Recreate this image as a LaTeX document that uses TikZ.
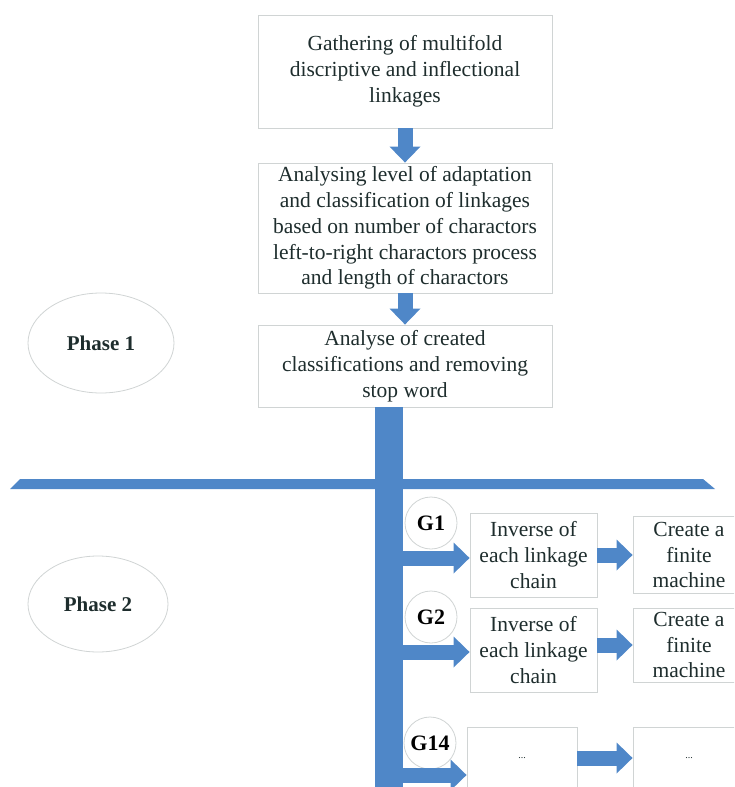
\documentclass[tikz,border=0pt]{standalone}
\usepackage{fontspec}
\setmainfont{Liberation Serif}
\usetikzlibrary{arrows.meta,shapes.geometric}
\definecolor{barblue}{RGB}{79,135,200}
\definecolor{edgegray}{RGB}{208,212,212}
\definecolor{inkdark}{RGB}{30,45,45}
\tikzset{
  stepbox/.style={draw=edgegray, fill=white, line width=0.8pt, align=center,
    text=inkdark, inner sep=0pt, font=\fontsize{21.5}{25.8}\selectfont},
  phase/.style={ellipse, draw=edgegray, fill=white, line width=0.8pt,
    text=inkdark, font=\fontsize{21}{21}\selectfont\bfseries},
  grouptag/.style={circle, draw=edgegray, fill=white, line width=0.8pt,
    minimum size=52pt, inner sep=0pt, font=\fontsize{22}{22}\selectfont\bfseries},
  blockarrow/.style={draw=barblue, line width=15pt,
    -{Triangle[width=30pt,length=16pt]}}
}

\begin{document}
\begin{tikzpicture}[x=1pt,y=-1pt]
    \useasboundingbox (0,0) rectangle (734,787);
    \clip (0,0) rectangle (734,787);

    % phase 1 chain of boxes
    \node[stepbox, minimum width=294pt, minimum height=113pt] (gather) at (405,71.5)
        {Gathering of multifold\\discriptive and inflectional\\linkages};
    \node[stepbox, minimum width=294pt, minimum height=130pt] (analysing) at (405,228)
        {Analysing level of adaptation\\and classification of linkages\\based on number of charactors\\left-to-right charactors process\\and length of charactors};
    \node[stepbox, minimum width=294pt, minimum height=82pt] (analyse) at (405,366)
        {Analyse of created\\classifications and removing\\stop word};

    \draw[blockarrow] (gather.south) -- (analysing.north);
    \draw[blockarrow] (analysing.south) -- (analyse.north);

    % phase labels
    \node[phase, minimum width=146pt, minimum height=100pt] (phaseone) at (101,343) {Phase 1};
    \node[phase, minimum width=140pt, minimum height=96pt] (phasetwo) at (98,604) {Phase 2};

    % trunk and dividing bar
    \coordinate (trunktop) at (389,407);
    \coordinate (trunkend) at (389,800);
    \draw[barblue, line width=28pt] (trunktop) -- (trunkend);
    \fill[barblue] (20,479) -- (703,479) -- (715,489) -- (10,489) -- cycle;

    % groups
    \node[grouptag] (gone) at (431,523) {G1};
    \node[grouptag] (gtwo) at (431,617) {G2};
    \node[grouptag] (gfourteen) at (430,743) {G14};

    \node[stepbox, minimum width=127pt, minimum height=84pt] (inverseone) at (533.5,555)
        {Inverse of\\each linkage\\chain};
    \node[stepbox, minimum width=112pt, minimum height=77pt] (createone) at (689,555)
        {Create a\\finite\\machine};
    \node[stepbox, minimum width=127pt, minimum height=84pt] (inversetwo) at (533.5,650)
        {Inverse of\\each linkage\\chain};
    \node[stepbox, minimum width=112pt, minimum height=74pt] (createtwo) at (689,645)
        {Create a\\finite\\machine};
    \node[stepbox, minimum width=110pt, minimum height=62pt, font=\fontsize{10}{10}\selectfont] (emptyone) at (522,758) {...};
    \node[stepbox, minimum width=112pt, minimum height=62pt, font=\fontsize{10}{10}\selectfont] (emptytwo) at (689,758) {...};

    % branches off the trunk
    \coordinate (branchone) at (402,558);
    \coordinate (branchtwo) at (402,652);
    \coordinate (branchfourteen) at (402,775);
    \draw[blockarrow] (branchone) -- (branchone -| inverseone.west);
    \draw[blockarrow] (branchtwo) -- (branchtwo -| inversetwo.west);
    \draw[blockarrow] (branchfourteen) -- (branchfourteen -| emptyone.west);

    \draw[blockarrow] (inverseone.east) -- (createone.west);
    \draw[blockarrow] (inversetwo.east |- createtwo.west) -- (createtwo.west);
    \draw[blockarrow] (emptyone.east) -- (emptytwo.west);
\end{tikzpicture}
\end{document}
